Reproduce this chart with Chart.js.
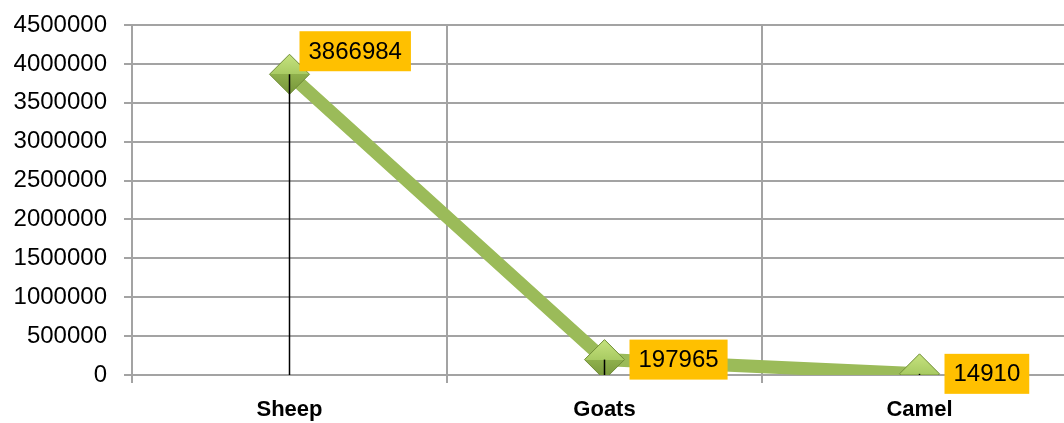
<!DOCTYPE html>
<html>
<head>
<meta charset="utf-8">
<script src="https://cdn.jsdelivr.net/npm/chart.js@4.4.1/dist/chart.umd.min.js"></script>
<style>
  html, body { margin: 0; padding: 0; background: #fff; overflow: hidden; }
  #wrap { width: 1064px; height: 423px; overflow: hidden; }
</style>
</head>
<body>
<div id="wrap"><canvas id="chart" width="1098" height="423"></canvas></div>
<script>
const categories = ['Sheep', 'Goats', 'Camel'];
const values = [3866984, 197965, 14910];
const yMax = 4500000;
const yStep = 500000;

const FONT = "'Liberation Sans', Arial, sans-serif";
const GRID = '#a3a3a3';

// where each value box sits relative to its point (dx from point to box left, dy to box top)
const labelOffsets = [[10, -43], [25, -20], [25, -20]];

function diamondFill(ctx) {
  const chart = ctx.chart;
  const y = chart.scales && chart.scales.y ? chart.scales.y.getPixelForValue(ctx.raw) : NaN;
  if (!isFinite(y)) return '#9bbb59';
  const g = chart.ctx.createLinearGradient(0, y - 20, 0, y + 20);
  g.addColorStop(0, '#c6e27e');
  g.addColorStop(0.5, '#a9cb63');
  g.addColorStop(0.5, '#8fb04c');
  g.addColorStop(1, '#76953a');
  return g;
}

const extras = {
  id: 'extras',
  afterDatasetsDraw(chart) {
    const ctx = chart.ctx;
    const meta = chart.getDatasetMeta(0);
    const base = chart.scales.y.getPixelForValue(0);
    ctx.save();
    // drop lines
    ctx.strokeStyle = '#000';
    ctx.lineWidth = 1.5;
    meta.data.forEach(pt => {
      ctx.beginPath();
      ctx.moveTo(pt.x, pt.y);
      ctx.lineTo(pt.x, base);
      ctx.stroke();
    });
    // value boxes
    ctx.font = '24px ' + FONT;
    ctx.textBaseline = 'middle';
    ctx.textAlign = 'left';
    meta.data.forEach((pt, i) => {
      const txt = String(values[i]);
      const w = ctx.measureText(txt).width + 18;
      const h = 40;
      const bx = pt.x + labelOffsets[i][0];
      const by = pt.y + labelOffsets[i][1];
      ctx.fillStyle = '#ffc000';
      ctx.fillRect(bx, by, w, h);
      ctx.fillStyle = '#000';
      ctx.fillText(txt, bx + 9, by + h / 2 + 1);
    });
    ctx.restore();
  }
};

new Chart(document.getElementById('chart'), {
  type: 'line',
  data: {
    labels: categories,
    datasets: [{
      data: values,
      borderColor: '#9bbb59',
      borderWidth: 13,
      tension: 0,
      pointStyle: 'rectRot',
      pointRadius: 20,
      pointHoverRadius: 20,
      pointBackgroundColor: diamondFill,
      pointBorderColor: '#6f8c36',
      pointBorderWidth: 1
    }]
  },
  options: {
    responsive: false,
    animation: false,
    events: [],
    layout: { padding: { top: 25, right: 13, left: 0, bottom: 0 } },
    plugins: { legend: { display: false }, tooltip: { enabled: false } },
    scales: {
      x: {
        offset: true,
        afterFit: s => { s.height = 48; s.paddingLeft = 0; s.paddingRight = 0; },
        grid: { offset: true, color: GRID, lineWidth: 2, tickLength: 8 },
        border: { color: GRID, width: 2 },
        ticks: { color: '#000', padding: 14, font: { family: FONT, size: 22, weight: 'bold' } }
      },
      y: {
        min: 0,
        max: yMax,
        afterFit: s => { s.width = 132; s.paddingTop = 0; s.paddingBottom = 0; },
        grid: { color: GRID, lineWidth: 2, tickLength: 8 },
        border: { color: GRID, width: 2 },
        ticks: {
          stepSize: yStep,
          color: '#000',
          padding: 17,
          font: { family: FONT, size: 24 },
          callback: v => String(v)
        }
      }
    }
  },
  plugins: [extras]
});
</script>
</body>
</html>
